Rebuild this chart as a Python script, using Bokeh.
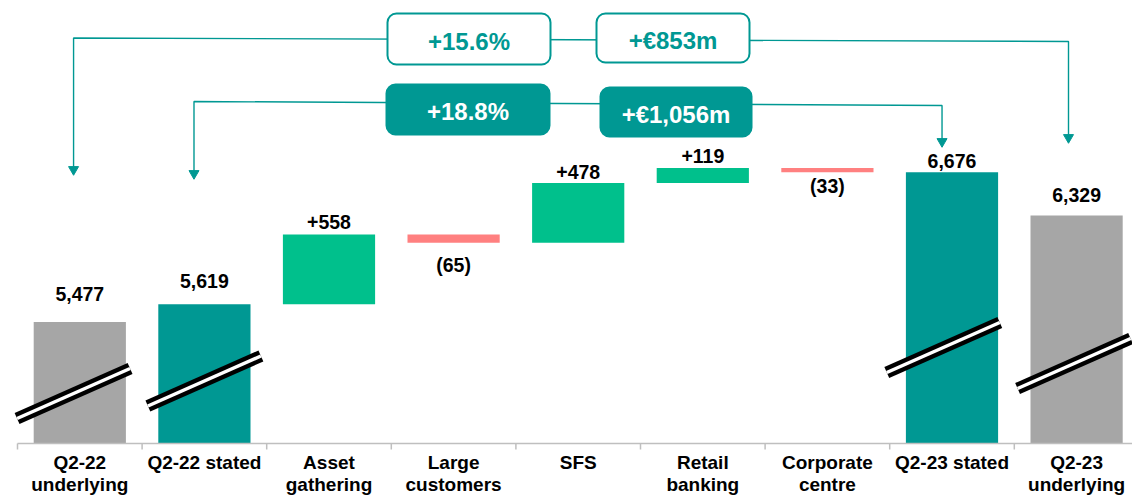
from bokeh.plotting import figure
from bokeh.models import BoxAnnotation, ColumnDataSource, Range1d
from bokeh.core.properties import value
from bokeh.embed import file_html
from bokeh.resources import INLINE

# ---------------- data ----------------
categories = ["Q2-22\nunderlying", "Q2-22 stated", "Asset\ngathering", "Large\ncustomers",
              "SFS", "Retail\nbanking", "Corporate\ncentre", "Q2-23 stated", "Q2-23\nunderlying"]
kinds = ["underlying", "total", "delta", "delta", "delta", "delta", "delta", "total", "underlying"]
values = [5477, 5619, 558, -65, 478, 119, -33, 6676, 6329]
value_labels = ["5,477", "5,619", "+558", "(65)", "+478", "+119", "(33)", "6,676", "6,329"]
growth_labels = ["+15.6%", "+€853m"]          # underlying Q2-22 -> Q2-23
stated_growth_labels = ["+18.8%", "+€1,056m"]  # stated Q2-22 -> Q2-23

# ---------------- style ----------------
TEAL = "#009893"
GREEN = "#00C08C"
RED = "#FF8080"
GREY = "#A6A6A6"
AXIS = "#BFBFBF"
FONT = value("Liberation Sans")
label_gap_px = [28.5, 23, 13, 22, 11, 12, 13.5, 11, 21]

W, H = 1132, 500
PX_PER_CAT = 124.6
UNITS_PER_PX = 8.0
BASE = 4505.0
BASE_PX_FROM_TOP = 443  # baseline position within frame
LEFT_PX = 17            # left edge of the first category

x0 = -0.5 - LEFT_PX / PX_PER_CAT
x1 = x0 + W / PX_PER_CAT
y1 = BASE + BASE_PX_FROM_TOP * UNITS_PER_PX
y0 = y1 - H * UNITS_PER_PX

p = figure(width=W, height=H, output_backend="svg", toolbar_location=None,
           x_range=Range1d(x0, x1), y_range=Range1d(y0, y1),
           x_axis_location=None, y_axis_location=None,
           min_border=0, min_border_left=0, min_border_right=0,
           min_border_top=0, min_border_bottom=0)
p.outline_line_color = None
p.grid.visible = False
p.background_fill_color = "white"
p.border_fill_color = "white"

# ---------------- waterfall geometry ----------------
xs, bottoms, tops, colors = [], [], [], []
running = None
for i, (k, v) in enumerate(zip(kinds, values)):
    if k == "underlying":
        b, t, c = BASE, v, GREY
    elif k == "total":
        b, t, c = BASE, v, TEAL
        running = v
    else:
        b, t = min(running, running + v), max(running, running + v)
        c = GREEN if v >= 0 else RED
        running += v
    xs.append(i)
    bottoms.append(b)
    tops.append(t)
    colors.append(c)

src = ColumnDataSource(dict(x=xs, bottom=bottoms, top=tops, color=colors))
p.vbar(x="x", width=0.74, bottom="bottom", top="top", fill_color="color",
       line_color=None, source=src)

# value labels
ly = []
for i, v in enumerate(values):
    gap = label_gap_px[i] * UNITS_PER_PX
    if kinds[i] == "delta" and v < 0:
        ly.append(bottoms[i] - gap)
    else:
        ly.append(tops[i] + gap)
p.text(x=xs, y=ly, text=value_labels, text_align="center", text_baseline="middle",
       text_font=FONT, text_font_style="bold", text_font_size="19.5px", text_color="black")

# axis break marks on the full-height bars
brk_x = [-0.05, 1.0, 6.93, 7.98]
brk_y = [4905, 5005, 5273, 5145]
hx, hy = 0.4535, 200
bx0 = [x - hx for x in brk_x]
bx1 = [x + hx for x in brk_x]
by0 = [y - hy for y in brk_y]
by1 = [y + hy for y in brk_y]
p.segment(x0=bx0, y0=by0, x1=bx1, y1=by1, line_color="black", line_width=12)
p.segment(x0=bx0, y0=by0, x1=bx1, y1=by1, line_color="white", line_width=3.5)

# category axis (baseline, ticks, labels)
p.segment(x0=[-0.5], y0=[BASE], x1=[x1], y1=[BASE], line_color=AXIS, line_width=1.5)
tick_x = [i - 0.5 for i in range(len(categories) + 1)]
p.segment(x0=tick_x, y0=[BASE] * len(tick_x), x1=tick_x,
          y1=[BASE - 6 * UNITS_PER_PX] * len(tick_x), line_color=AXIS, line_width=1.5)
p.text(x=xs, y=[BASE - 8 * UNITS_PER_PX] * len(xs), text=categories,
       text_align="center", text_baseline="top", text_line_height=1.05,
       text_font=FONT, text_font_style="bold", text_font_size="19px", text_color="black")

# ---------------- growth connectors ----------------
# upper: underlying Q2-22 -> underlying Q2-23
p.line(x=[-0.05, -0.05, 7.935, 7.935], y=[6700, 7749, 7721, 6955],
       line_color=TEAL, line_width=1.4)
# lower: stated Q2-22 -> stated Q2-23
p.line(x=[0.9165, 0.9165, 6.92, 6.92], y=[6665, 7241, 7209, 6920],
       line_color=TEAL, line_width=1.4)
p.scatter(x=[-0.05, 0.9165, 7.935, 6.92], y=[6697, 6665, 6953, 6921],
          marker="inverted_triangle", size=10, fill_color=TEAL, line_color=TEAL)

boxes = [
    (2.4695, 3.7777, 7945, 7537, "white", TEAL, growth_labels[0]),
    (4.1469, 5.3748, 7945, 7553, "white", TEAL, growth_labels[1]),
    (2.4615, 3.7697, 7377, 6977, TEAL, "white", stated_growth_labels[0]),
    (4.1790, 5.3910, 7353, 6961, TEAL, "white", stated_growth_labels[1]),
]
for (l, r, t, b, fill, txt, lab) in boxes:
    p.add_layout(BoxAnnotation(left=l, right=r, top=t, bottom=b, fill_color=fill,
                               fill_alpha=1.0, line_color=TEAL, line_alpha=1.0,
                               line_width=2, border_radius=9, level="annotation"))
for (l, r, t, b, fill, txt, lab) in boxes:
    p.text(x=[(l + r) / 2], y=[(t + b) / 2 - 2 * UNITS_PER_PX], text=[lab],
           text_align="center", text_baseline="middle", text_font=FONT,
           text_font_style="bold", text_font_size="24px", text_color=txt, level="overlay")

open("out.html", "w").write(file_html(p, INLINE))
